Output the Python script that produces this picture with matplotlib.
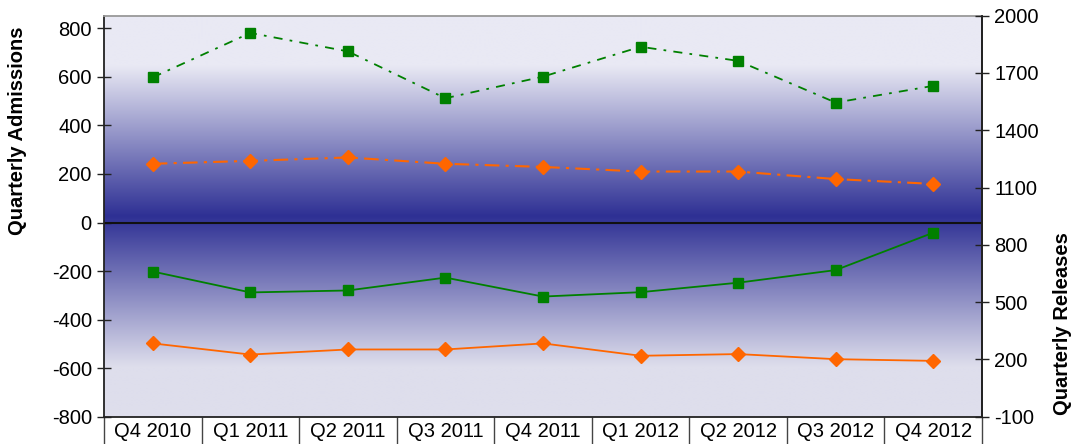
import numpy as np
import matplotlib
matplotlib.use("Agg")
import matplotlib.pyplot as plt
from matplotlib.ticker import FixedLocator, NullFormatter, FixedFormatter

plt.rcParams['font.family'] = ['Liberation Sans', 'DejaVu Sans']
plt.rcParams['axes.unicode_minus'] = False

quarters = ["Q4 2010", "Q1 2011", "Q2 2011", "Q3 2011", "Q4 2011",
            "Q1 2012", "Q2 2012", "Q3 2012", "Q4 2012"]
green_adm = [598, 781, 705, 512, 601, 724, 666, 494, 563]
orange_adm = [242, 254, 268, 242, 229, 210, 210, 179, 159]
green_rel = [-202, -288, -280, -227, -305, -287, -248, -196, -42]
orange_rel = [-498, -544, -523, -523, -498, -549, -542, -563, -570]

left_ticks = list(range(-800, 801, 200))
right_ticks = list(range(-100, 2001, 300))

W, H = 1078, 444
fig = plt.figure(figsize=(W / 100, H / 100), dpi=100)
x0, x1, y0, y1 = 104, 982, 15.7, 416.7
ax = fig.add_axes([x0 / W, 1 - y1 / H, (x1 - x0) / W, (y1 - y0) / H])

# gradient background
n = 400
t = np.linspace(0, 1, n)  # 0 at top, 1 at bottom
d = np.abs(t - 0.5) / 0.5
f = np.clip(1 - d / 0.75, 0, 1)
dark = np.array([46, 48, 148]) / 255
top = np.array([233, 233, 244]) / 255
bot = np.array([222, 222, 236]) / 255
light = np.where((t < 0.5)[:, None], top[None, :], bot[None, :])
img = light + (dark[None, :] - light) * f[:, None]
img = img[:, None, :].repeat(2, axis=1)
ax.imshow(img, extent=[0, 1, 0, 1], transform=ax.transAxes, aspect='auto',
          zorder=0, interpolation='bilinear')

xs = np.arange(len(quarters))
green = '#008000'
orange = '#FF6600'
ax.plot(xs, green_adm, color=green, lw=1.3, dashes=(5, 4, 1.5, 4),
        marker='s', ms=7.5, zorder=3)
ax.plot(xs, orange_adm, color=orange, lw=1.5, dashes=(7, 3, 1.5, 3),
        marker='D', ms=7, zorder=3)
ax.plot(xs, green_rel, color=green, lw=1.3, marker='s', ms=7.5, zorder=3)
ax.plot(xs, orange_rel, color=orange, lw=1.3, marker='D', ms=7, zorder=3)

ax.axhline(0, color='#111111', lw=1.5, zorder=2)

ax.set_xlim(-0.5, len(quarters) - 0.5)
ax.set_ylim(-800, 852)
ax.set_yticks(left_ticks)
ax.set_yticklabels([str(v) for v in left_ticks])
ax.tick_params(axis='y', direction='inout', length=9.5, width=1, labelsize=14.5,
               pad=4, colors='#222222', labelcolor='black')

ax.xaxis.set_major_locator(FixedLocator(np.arange(-0.5, len(quarters), 1)))
ax.xaxis.set_major_formatter(NullFormatter())
ax.xaxis.set_minor_locator(FixedLocator(xs))
ax.xaxis.set_minor_formatter(FixedFormatter(quarters))
ax.tick_params(axis='x', which='major', direction='out', length=22, width=1,
               color='#444444')
ax.tick_params(axis='x', which='minor', length=0, labelsize=14.5, pad=4)

for s in ['left', 'bottom', 'right']:
    ax.spines[s].set_color('#222222')
    ax.spines[s].set_linewidth(1.3)
ax.spines['top'].set_color('#999999')
ax.spines['top'].set_linewidth(1.3)

ax2 = ax.twinx()
ax2.set_ylim(-100, 2000)
ax2.set_yticks(right_ticks)
ax2.set_yticklabels([str(v) for v in right_ticks])
ax2.tick_params(axis='y', direction='inout', length=9.5, width=1, labelsize=14.5,
                pad=4, colors='#222222', labelcolor='black')
for s in ['left', 'bottom', 'top']:
    ax2.spines[s].set_visible(False)
ax2.spines['right'].set_color('#222222')
ax2.spines['right'].set_linewidth(1.3)

fig.text(18 / W, 1 - 131 / H, 'Quarterly Admissions', rotation=90, fontsize=14.5,
         fontweight='bold', ha='center', va='center')
fig.text(1063 / W, 1 - 324 / H, 'Quarterly Releases', rotation=90, fontsize=14.5,
         fontweight='bold', ha='center', va='center')

fig.savefig('out.png', dpi=100)
